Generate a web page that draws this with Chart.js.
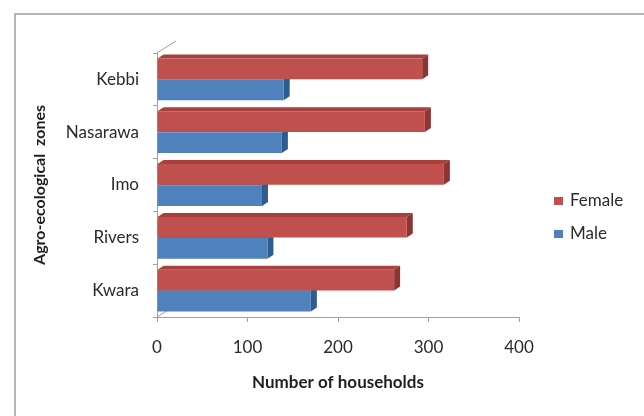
<!DOCTYPE html>
<html>
<head>
<meta charset="utf-8">
<script src="https://cdn.jsdelivr.net/npm/chart.js@4.4.0/dist/chart.umd.min.js"></script>
<style>
    body { margin: 0; background: #fff; }
    #wrap { position: relative; width: 644px; height: 416px; overflow: hidden; }
    #frame { position: absolute; left: 14px; top: 13px; width: 700px; height: 500px; border: 2px solid #b4b4b4; }
    #myChart { position: absolute; left: 0; top: 0; }
</style>
</head>
<body>
<div id="wrap">
    <div id="frame"></div>
    <canvas id="myChart" width="644" height="416"></canvas>
</div>
<script>
const ctx = document.getElementById("myChart");

let zones = ["Kebbi", "Nasarawa", "Imo", "Rivers", "Kwara"];
let female = [293, 296, 317, 276, 262];
let male = [140, 138, 116, 122, 170];
let xTicks = [0, 100, 200, 300, 400];

let sideColors = ["#8e3533", "#2e5c91"];
let topColors = ["#a8413e", "#3d6ea8"];

// draws the darker side and top faces behind each bar, plus the wall edges
let depthPlugin = {
    id: "depth",
    beforeDatasetsDraw(chart) {
        let c = chart.ctx;
        let area = chart.chartArea;
        c.save();
        c.strokeStyle = "#a0a0a0";
        c.lineWidth = 1;
        c.beginPath();
        c.moveTo(area.left, area.top);
        c.lineTo(area.left + 19, area.top - 12);
        c.moveTo(area.left, area.bottom);
        c.lineTo(area.left + 19, area.bottom - 12);
        c.stroke();
        let dx = 6, dy = 4;
        chart.data.datasets.forEach((ds, i) => {
            chart.getDatasetMeta(i).data.forEach(bar => {
                let top = bar.y - bar.height / 2;
                let bottom = bar.y + bar.height / 2;
                c.fillStyle = topColors[i];
                c.beginPath();
                c.moveTo(bar.base, top);
                c.lineTo(bar.base + dx, top - dy);
                c.lineTo(bar.x + dx, top - dy);
                c.lineTo(bar.x, top);
                c.closePath();
                c.fill();
                c.fillStyle = sideColors[i];
                c.beginPath();
                c.moveTo(bar.x, top);
                c.lineTo(bar.x + dx, top - dy);
                c.lineTo(bar.x + dx, bottom - dy);
                c.lineTo(bar.x, bottom);
                c.closePath();
                c.fill();
            });
        });
        c.restore();
    },
    afterDraw(chart) {
        let c = chart.ctx;
        c.save();
        c.font = "17px Lato";
        c.textBaseline = "middle";
        chart.data.datasets.forEach((ds, i) => {
            let y = 201 + i * 33;
            c.fillStyle = ds.backgroundColor;
            c.fillRect(554, y - 4, 9, 8);
            c.fillStyle = "#2a2a2a";
            c.fillText(ds.label, 570, y);
        });
        c.restore();
    }
};

let chart = new Chart(ctx, {
    type: "bar",
    data: {
        labels: zones,
        datasets: [
            {
                label: "Female",
                data: female,
                backgroundColor: "#c0504d"
            },
            {
                label: "Male",
                data: male,
                backgroundColor: "#4f81bd"
            }
        ]
    },
    options: {
        indexAxis: "y",
        responsive: false,
        animation: false,
        categoryPercentage: 0.8,
        barPercentage: 0.98,
        layout: {
            padding: { left: 0, top: 53, right: 125, bottom: 0 }
        },
        scales: {
            x: {
                min: 0,
                max: 400,
                afterBuildTicks: (scale) => {
                    scale.ticks = xTicks.map(v => ({ value: v }));
                },
                afterFit: (scale) => { scale.height = 99; },
                border: { color: "#a0a0a0" },
                grid: { drawOnChartArea: false, tickLength: 5, color: "#a0a0a0" },
                ticks: {
                    padding: 15,
                    color: "#2a2a2a",
                    font: { family: "Lato", size: 17 }
                },
                title: {
                    display: true,
                    text: "Number of households",
                    color: "#1e1e1e",
                    padding: { top: 0, bottom: 23 },
                    font: { family: "Lato", size: 17, weight: "bold" }
                }
            },
            y: {
                afterFit: (scale) => { scale.width = 157; },
                border: { color: "#a0a0a0" },
                grid: { drawOnChartArea: false, tickLength: 4, color: "#a0a0a0" },
                ticks: {
                    padding: 14,
                    color: "#2a2a2a",
                    font: { family: "Lato", size: 17 }
                },
                title: {
                    display: true,
                    text: "Agro-ecological  zones",
                    color: "#1e1e1e",
                    padding: { top: 30, bottom: 0 },
                    font: { family: "Lato", size: 16, weight: "bold" }
                }
            }
        },
        plugins: {
            legend: { display: false },
            tooltip: { enabled: false }
        }
    },
    plugins: [depthPlugin]
});
</script>
</body>
</html>
